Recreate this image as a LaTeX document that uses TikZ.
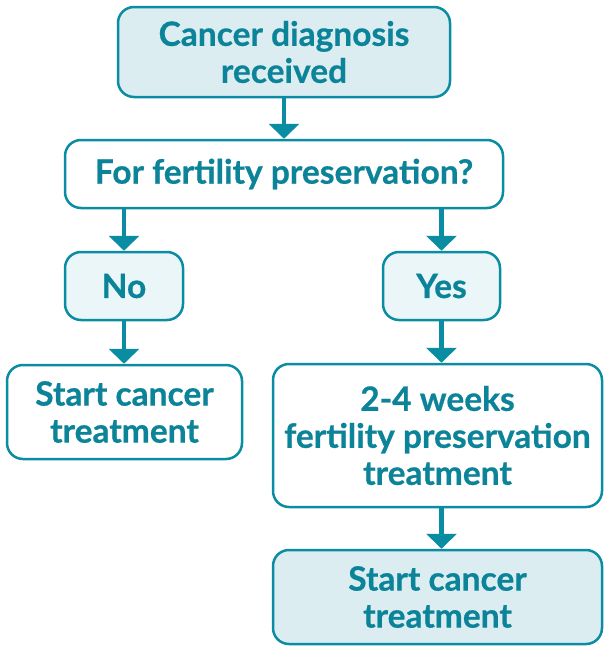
\documentclass[tikz,border=0pt]{standalone}
\usepackage{fontspec}
\setmainfont{Lato}[BoldFeatures={FakeBold=0.6}]
\usetikzlibrary{arrows.meta}
\definecolor{tealline}{HTML}{0A8CA3}
\definecolor{tealtext}{HTML}{0B8398}
\definecolor{tealfill}{HTML}{DCEDF2}
\definecolor{tealpale}{HTML}{EBF6F9}

\tikzset{
  box/.style={draw=tealline, line width=2.5pt, rounded corners=16pt, align=center,
    inner sep=0pt, text=tealtext, font=\fontsize{33.5}{37}\selectfont\bfseries},
  flow/.style={draw=tealline, line width=4.5pt, -{Triangle[width=30pt,length=15pt]}}
}

\begin{document}
\begin{tikzpicture}[x=1pt,y=-1pt]
\useasboundingbox (0,0) rectangle (604,646);

\node[box, fill=tealfill, minimum width=332pt, minimum height=90pt] (diag) at (284,52) {Cancer diagnosis\\received};
\node[box, fill=white, minimum width=438pt, minimum height=68pt] (fert) at (284,174) {For fertility preservation?};
\node[box, fill=tealpale, minimum width=118pt, minimum height=68pt] (no) at (124,286) {No};
\node[box, fill=tealpale, minimum width=117pt, minimum height=68pt] (yes) at (441.5,286) {Yes};
\node[box, fill=white, minimum width=235pt, minimum height=94pt] (startl) at (124.5,412) {Start cancer\\treatment};
\node[box, fill=white, minimum width=329pt, minimum height=143pt] (pres) at (437.5,435.5) {2-4 weeks\\fertility preservation\\treatment};
\node[box, fill=tealfill, minimum width=329pt, minimum height=94pt] (startr) at (437.5,597) {Start cancer\\treatment};

% arrows
\draw[flow] (diag.south) -- (fert.north);
\draw[flow] (fert.south -| no.north) -- (no.north);
\draw[flow] (fert.south -| yes.north) -- (yes.north);
\draw[flow] (no.south) -- (startl.north -| no.south);
\draw[flow] (yes.south) -- (pres.north -| yes.south);
\draw[flow] (pres.south -| yes.south) -- (startr.north -| yes.south);
\end{tikzpicture}
\end{document}
